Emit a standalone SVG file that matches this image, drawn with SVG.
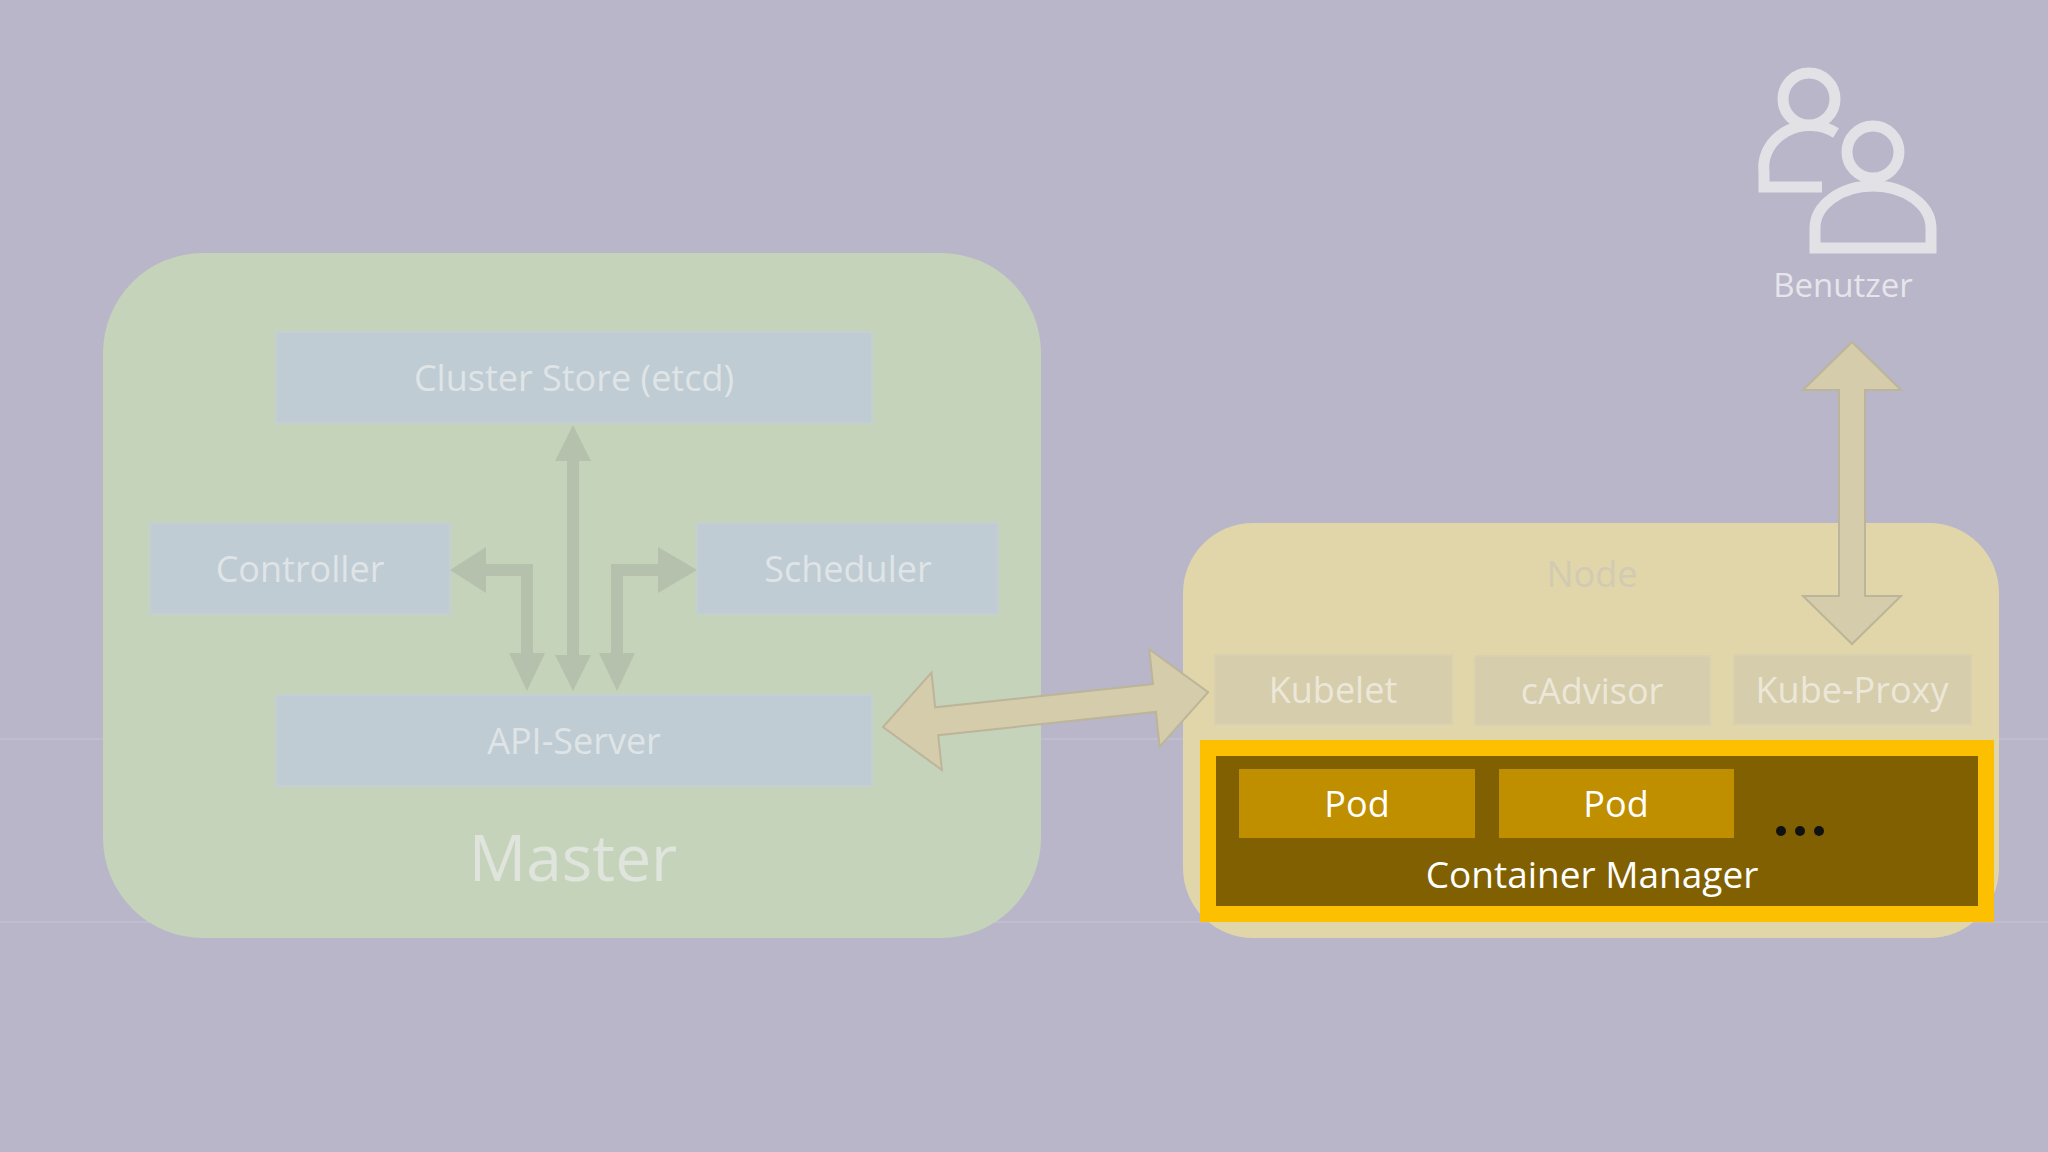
<svg xmlns="http://www.w3.org/2000/svg" width="2048" height="1152" viewBox="0 0 2048 1152">
<style>
text{font-family:"Open Sans","Noto Sans","Liberation Sans",sans-serif;text-anchor:middle}
.box{fill:#bfccd4;stroke:#c4cfd4;stroke-width:2}
.lbl{fill:#dfe4e6;font-size:36px}
.nb{fill:#d6cdac;stroke:#d9d0b0;stroke-width:2}
.nl{fill:#ece7d8;font-size:36px}
.ar{fill:#b5c1ad}
.big{fill:#d4ccaa;stroke:#bdb599;stroke-width:2}
.pod{fill:#bf8f00}
.pt{fill:#ffffff;font-size:36px}
.ic{fill:none;stroke:#e2e1e6;stroke-width:11}
</style>
<rect width="2048" height="1152" fill="#b8b6c8"/>
<line x1="0" y1="739" x2="2048" y2="739" stroke="#c6c4d4" stroke-width="1"/>
<line x1="0" y1="922" x2="2048" y2="922" stroke="#c6c4d4" stroke-width="1"/>
<g id="master">
<rect x="103" y="253" width="938" height="685" rx="100" fill="#c6d3bb"/>
<text x="573" y="881" style="font-size:64px;fill:#dfe4dc">Master</text>
</g>
<g id="clusterstore"><rect class="box" x="276" y="332" width="596" height="91"/><text class="lbl" x="574" y="391">Cluster Store (etcd)</text></g>
<g id="controller"><rect class="box" x="150" y="523" width="300" height="91"/><text class="lbl" x="300" y="582">Controller</text></g>
<g id="scheduler"><rect class="box" x="697" y="523" width="301" height="91"/><text class="lbl" x="848" y="582">Scheduler</text></g>
<g id="apiserver"><rect class="box" x="276" y="695" width="596" height="91"/><text class="lbl" x="574" y="754">API-Server</text></g>
<g id="node">
<rect x="1183" y="523" width="816" height="415" rx="70" fill="#e0d6aa"/>
<text x="1592" y="587" style="font-size:36px;fill:#d3cab2">Node</text>
</g>
<g id="kubelet"><rect class="nb" x="1215" y="655" width="237" height="69"/><text class="nl" x="1333" y="703">Kubelet</text></g>
<g id="cadvisor"><rect class="nb" x="1475" y="656" width="235" height="69"/><text class="nl" x="1592" y="704">cAdvisor</text></g>
<g id="kubeproxy"><rect class="nb" x="1734" y="655" width="237" height="69"/><text class="nl" x="1852" y="703">Kube-Proxy</text></g>
<g id="containermanager">
<rect x="1208" y="748" width="778" height="166" fill="#806000" stroke="#fcc000" stroke-width="16"/>
<text x="1592" y="888" style="font-size:37px;fill:#ffffff">Container Manager</text>
<circle cx="1781" cy="831" r="5" fill="#111"/><circle cx="1800" cy="831" r="5" fill="#111"/><circle cx="1819" cy="831" r="5" fill="#111"/>
</g>
<g id="pod1"><rect class="pod" x="1239" y="769" width="236" height="69"/><text class="pt" x="1357" y="817">Pod</text></g>
<g id="pod2"><rect class="pod" x="1499" y="769" width="235" height="69"/><text class="pt" x="1616" y="817">Pod</text></g>
<g id="benutzer">
<circle class="ic" cx="1809" cy="99" r="26"/>
<path class="ic" d="M1822,187 H1764 V172 A46,42 0 0 1 1836,133"/>
<circle class="ic" cx="1873" cy="152" r="26"/>
<path class="ic" d="M1815,248 V228 A58,42 0 0 1 1931,228 V248 Z"/>
<text x="1843" y="297" style="font-size:33px;fill:#e6e5ec">Benutzer</text>
</g>
<g id="connectors">
<polygon class="ar" points="573,425 591,461 579,461 579,655 591,655 573,691 555,655 567,655 567,461 555,461"/>
<polygon class="ar" points="450,570 486,547 486,564 533,564 533,653 545,653 527,691 509,653 521,653 521,576 486,576 486,593"/>
<polygon class="ar" points="697,570 658,547 658,564 611,564 611,653 599,653 617,691 635,653 623,653 623,576 658,576 658,593"/>
<g transform="translate(883,727) rotate(-6.1)"><polygon class="big" points="0,0 54,-49 54,-14 273,-14 273,-49 327,0 273,49 273,14 54,14 54,49"/></g>
<polygon class="big" points="1852,342 1901,390 1865,390 1865,596 1901,596 1852,644 1803,596 1839,596 1839,390 1803,390"/>
</g>
</svg>
